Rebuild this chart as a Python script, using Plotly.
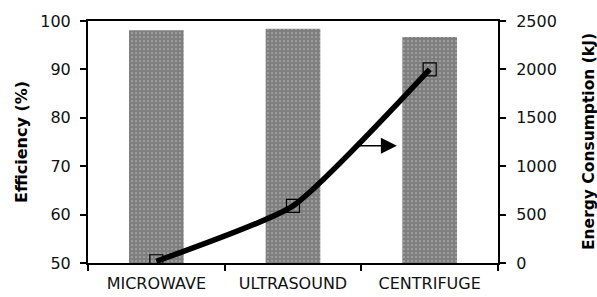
import plotly.graph_objects as go

categories = ["MICROWAVE", "ULTRASOUND", "CENTRIFUGE"]
efficiency = [98.1, 98.4, 96.7]
energy = [18, 590, 2000]

FONT = "DejaVu Sans"
L, R, T, B = 88, 99, 21, 34
W, H = 597, 297
PW = W - L - R

fig = go.Figure()
fig.add_trace(go.Bar(
    x=categories, y=efficiency, width=0.4,
    marker=dict(color="white", line=dict(width=0),
                pattern=dict(shape=".", fgcolor="black", bgcolor="white",
                             size=4, solidity=0.85)),
    showlegend=False,
))
fig.add_trace(go.Scatter(
    x=categories, y=energy, yaxis="y2", mode="lines+markers",
    line=dict(color="black", width=5.5, shape="spline", smoothing=0.5),
    marker=dict(symbol="square-open", size=13, color="black", line=dict(width=1.2)),
    showlegend=False,
))

# arrow pointing to the right-hand axis
fig.add_annotation(
    x=1.76, y=1212, xref="x", yref="y2", ax=1.45, ay=1212, axref="x", ayref="y2",
    text="", showarrow=True, arrowhead=2, arrowsize=2.0, arrowwidth=1.6, arrowcolor="black",
    standoff=0,
)
# axis titles
fig.add_annotation(
    x=(21 - L) / PW, y=0.5, xref="paper", yref="paper", text="<b>Efficiency (%)</b>",
    showarrow=False, textangle=-90, font=dict(size=16, family=FONT),
    xanchor="center", yanchor="middle",
)
fig.add_annotation(
    x=1 + (589 - (W - R)) / PW, y=0.5, xref="paper", yref="paper",
    text="<b>Energy Consumption (kJ)</b>",
    showarrow=False, textangle=-90, font=dict(size=15.5, family=FONT),
    xanchor="center", yanchor="middle",
)

axis_common = dict(
    showline=True, linecolor="black", linewidth=2,
    ticks="outside", ticklen=6, tickwidth=1.5, tickcolor="black",
    showgrid=False, zeroline=False, automargin=False,
    tickfont=dict(size=16, family=FONT, color="#111"),
)

fig.update_layout(
    width=W, height=H,
    margin=dict(l=L, r=R, t=T, b=B, autoexpand=False),
    paper_bgcolor="white", plot_bgcolor="white",
    font=dict(family=FONT, color="black", size=16),
    xaxis=dict(axis_common, mirror=True, tickson="boundaries", ticklabelstandoff=5),
    yaxis=dict(axis_common, range=[50, 100], dtick=10, ticklabelstandoff=6),
    yaxis2=dict(axis_common, range=[0, 2500], dtick=500, overlaying="y", side="right",
                ticklabelstandoff=7),
)

fig.write_html("out.html", config={"displayModeBar": False},
               post_script="document.body.style.margin='0';document.body.style.overflow='hidden';")
